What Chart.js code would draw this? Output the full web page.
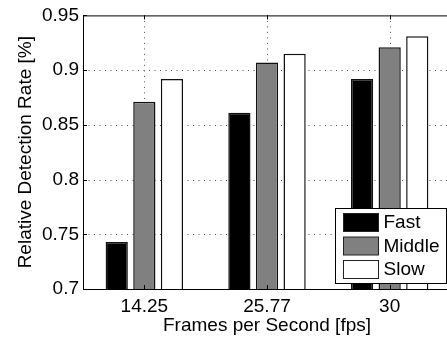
<!DOCTYPE html>
<html>
<head>
<meta charset="utf-8">
<script src="https://cdn.jsdelivr.net/npm/chart.js@4/dist/chart.umd.min.js"></script>
<style>
  html, body { margin: 0; padding: 0; background: #fff; overflow: hidden; }
  #wrap { width: 460px; height: 338px; }
</style>
</head>
<body>
<div id="wrap"><canvas id="chart"></canvas></div>
<script>
// dados
const categories = ['14.25', '25.77', '30'];
const seriesNames = ['Fast', 'Middle', 'Slow'];
const fastValues = [0.743, 0.861, 0.892];
const middleValues = [0.871, 0.907, 0.921];
const slowValues = [0.892, 0.915, 0.931];
const yTicks = [0.7, 0.75, 0.8, 0.85, 0.9, 0.95];

const fontFamily = '"Liberation Sans", Arial, Helvetica, sans-serif';

// grade pontilhada (estilo matlab), desenhada antes das barras
const dottedGridPlugin = {
    id: 'dottedGrid',
    beforeDatasetsDraw(chart) {
        const ctx = chart.ctx;
        const a = chart.chartArea;
        const x = chart.scales.x;
        const y = chart.scales.y;
        ctx.save();
        ctx.strokeStyle = '#555';
        ctx.lineWidth = 1;
        ctx.setLineDash([1, 4.5]);
        ctx.beginPath();
        yTicks.slice(1, -1).forEach(v => {
            const py = Math.round(y.getPixelForValue(v)) + 0.5;
            ctx.moveTo(a.left, py); ctx.lineTo(a.right, py);
        });
        categories.forEach((c, i) => {
            const px = Math.round(x.getPixelForValue(i)) + 0.5;
            ctx.moveTo(px, a.top); ctx.lineTo(px, a.bottom);
        });
        ctx.stroke();
        ctx.restore();
    }
};

// moldura do eixo + pequenos ticks para dentro
const framePlugin = {
    id: 'frame',
    afterDatasetsDraw(chart) {
        const ctx = chart.ctx;
        const a = chart.chartArea;
        const x = chart.scales.x;
        const y = chart.scales.y;
        ctx.save();
        ctx.strokeStyle = '#000';
        ctx.lineWidth = 1;
        ctx.strokeRect(a.left + 0.5, a.top + 0.5, a.right - a.left, a.bottom - a.top);
        ctx.beginPath();
        yTicks.forEach(v => {
            const py = Math.round(y.getPixelForValue(v)) + 0.5;
            ctx.moveTo(a.left, py); ctx.lineTo(a.left + 4, py);
            ctx.moveTo(a.right, py); ctx.lineTo(a.right - 4, py);
        });
        categories.forEach((c, i) => {
            const px = Math.round(x.getPixelForValue(i)) + 0.5;
            ctx.moveTo(px, a.bottom); ctx.lineTo(px, a.bottom - 4);
            ctx.moveTo(px, a.top); ctx.lineTo(px, a.top + 4);
        });
        ctx.stroke();
        ctx.restore();
    }
};

// legenda dentro da área do gráfico (canto inferior direito)
const legendBoxPlugin = {
    id: 'legendBox',
    afterDraw(chart) {
        const ctx = chart.ctx;
        const a = chart.chartArea;
        const w = 111, h = 75;
        const lx = Math.round(a.right - 5 - w) + 0.5;
        const ly = Math.round(a.bottom - 6 - h) + 0.5;
        ctx.save();
        ctx.fillStyle = '#fff';
        ctx.fillRect(lx, ly, w, h);
        ctx.strokeStyle = '#000';
        ctx.lineWidth = 1;
        ctx.strokeRect(lx, ly, w, h);
        ctx.font = '19px ' + fontFamily;
        ctx.textBaseline = 'middle';
        chart.data.datasets.forEach((ds, i) => {
            const sy = ly + 5 + i * 23.5;
            ctx.fillStyle = ds.backgroundColor;
            ctx.fillRect(lx + 8, sy, 35, 18);
            ctx.strokeStyle = '#222';
            ctx.strokeRect(lx + 8, sy, 35, 18);
            ctx.fillStyle = '#000';
            ctx.fillText(ds.label, lx + 48, sy + 9.5);
        });
        ctx.restore();
    }
};

new Chart(document.getElementById('chart'), {
    type: 'bar',
    data: {
        labels: categories,
        datasets: [
            { label: seriesNames[0], data: fastValues, backgroundColor: '#000000', borderColor: '#111', borderWidth: 1.5 },
            { label: seriesNames[1], data: middleValues, backgroundColor: '#808080', borderColor: '#111', borderWidth: 1.5 },
            { label: seriesNames[2], data: slowValues, backgroundColor: '#ffffff', borderColor: '#111', borderWidth: 1.5 }
        ]
    },
    options: {
        responsive: true,
        maintainAspectRatio: false,
        animation: false,
        layout: { padding: { top: 13, right: 9, bottom: 0, left: 0 } },
        datasets: {
            bar: { categoryPercentage: 0.675, barPercentage: 0.805 }
        },
        plugins: {
            legend: { display: false },
            tooltip: { enabled: false }
        },
        scales: {
            x: {
                grid: { display: false, drawTicks: false },
                border: { display: false },
                ticks: {
                    color: '#000',
                    padding: 6,
                    font: { family: fontFamily, size: 19 }
                },
                title: {
                    display: true,
                    text: 'Frames per Second [fps]',
                    color: '#000',
                    padding: { top: 0, bottom: 1 },
                    font: { family: fontFamily, size: 19 }
                },
                afterFit(scale) { scale.height = 49; }
            },
            y: {
                min: 0.7,
                max: 0.95,
                grid: { display: false, drawTicks: false },
                border: { display: false },
                afterBuildTicks(scale) {
                    scale.ticks = yTicks.map(v => ({ value: v }));
                },
                ticks: {
                    color: '#000',
                    padding: 4,
                    font: { family: fontFamily, size: 19 },
                    callback: v => String(parseFloat(v.toFixed(2)))
                },
                title: {
                    display: true,
                    text: 'Relative Detection Rate [%]',
                    color: '#000',
                    padding: { top: 14, bottom: 0 },
                    font: { family: fontFamily, size: 19 }
                },
                afterFit(scale) { scale.width = 83; }
            }
        }
    },
    plugins: [dottedGridPlugin, framePlugin, legendBoxPlugin]
});
</script>
</body>
</html>
